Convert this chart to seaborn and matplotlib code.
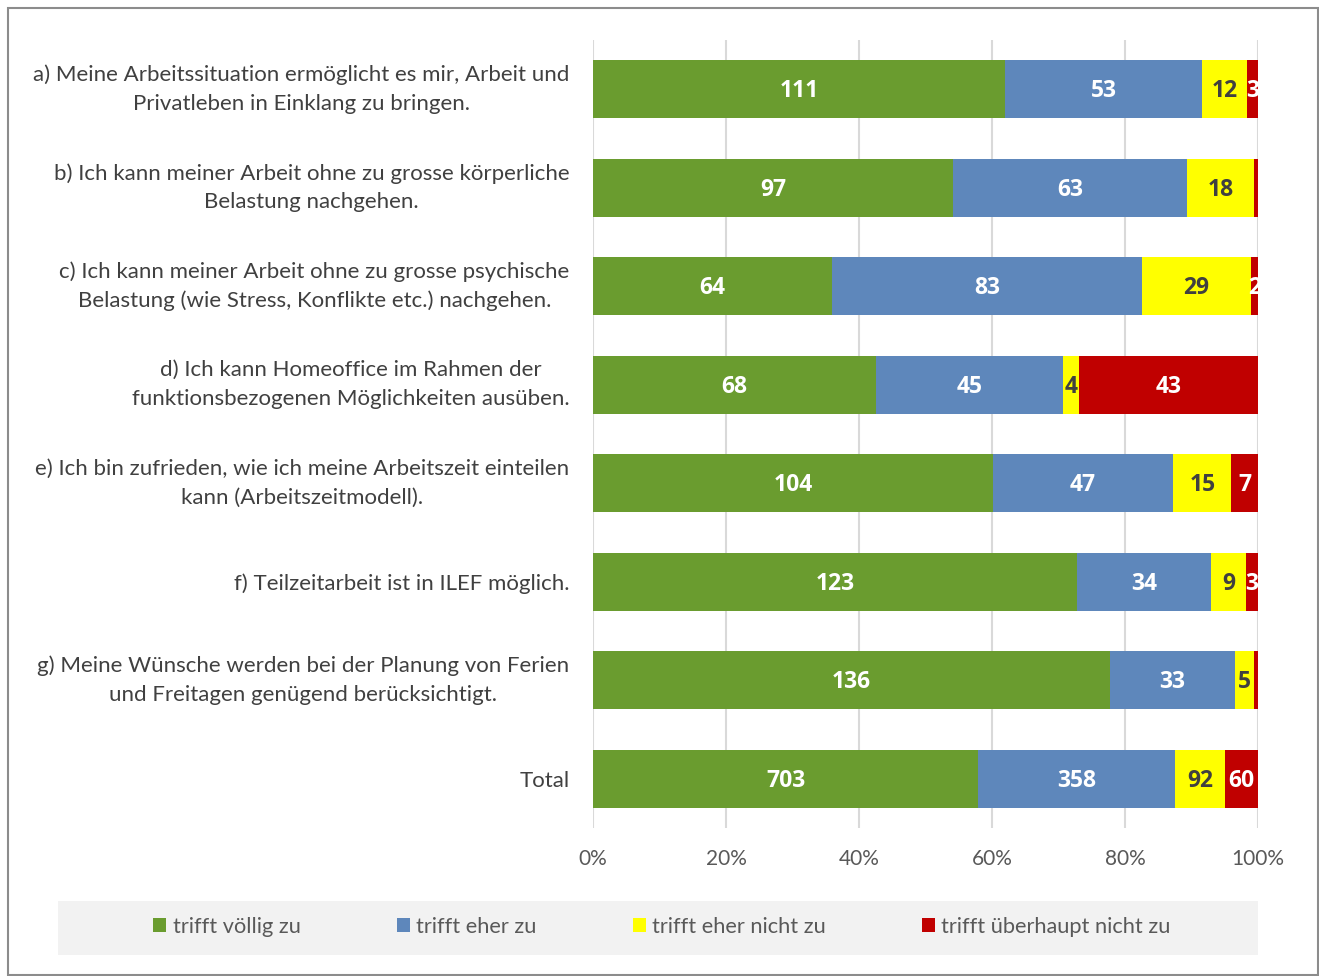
import numpy as np
import pandas as pd
import matplotlib
matplotlib.use("Agg")
import matplotlib.pyplot as plt
import seaborn as sns
from matplotlib.patches import Patch, Rectangle

# Data
questions = [
    "a) Meine Arbeitssituation ermöglicht es mir, Arbeit und\nPrivatleben in Einklang zu bringen.",
    "b) Ich kann meiner Arbeit ohne zu grosse körperliche\nBelastung nachgehen.",
    "c) Ich kann meiner Arbeit ohne zu grosse psychische\nBelastung (wie Stress, Konflikte etc.) nachgehen.",
    "d) Ich kann Homeoffice im Rahmen der\nfunktionsbezogenen Möglichkeiten ausüben.",
    "e) Ich bin zufrieden, wie ich meine Arbeitszeit einteilen\nkann (Arbeitszeitmodell).",
    "f) Teilzeitarbeit ist in ILEF möglich.",
    "g) Meine Wünsche werden bei der Planung von Ferien\nund Freitagen genügend berücksichtigt.",
    "Total",
]
categories = ["trifft völlig zu", "trifft eher zu", "trifft eher nicht zu", "trifft überhaupt nicht zu"]
voellig = [111, 97, 64, 68, 104, 123, 136, 703]
eher = [53, 63, 83, 45, 47, 34, 33, 358]
eher_nicht = [12, 18, 29, 4, 15, 9, 5, 92]
ueberhaupt_nicht = [3, 1, 2, 43, 7, 3, 1, 60]
xticks = [0, 0.2, 0.4, 0.6, 0.8, 1.0]

colors = ["#6A9C2F", "#5E87BB", "#FFFF00", "#C00000"]
text_colors = ["white", "white", "#404040", "white"]

counts = pd.DataFrame(
    {categories[0]: voellig, categories[1]: eher,
     categories[2]: eher_nicht, categories[3]: ueberhaupt_nicht},
    index=questions,
)
shares = counts.div(counts.sum(axis=1), axis=0)
cum = shares.cumsum(axis=1)

sns.set_theme(style="white")
plt.rcParams["font.family"] = ["Lato", "DejaVu Sans"]

fig = plt.figure(figsize=(13.19, 9.76), dpi=100)
ax = fig.add_axes([593 / 1319, 1 - 828 / 976, 665 / 1319, 788 / 976])

# stacked bars drawn back-to-front as cumulative shares
for cat, col in reversed(list(zip(categories, colors))):
    d = pd.DataFrame({"question": questions, "value": cum[cat].values})
    sns.barplot(data=d, x="value", y="question", orient="h", color=col,
                saturation=1, width=0.59, errorbar=None, linewidth=0, ax=ax, zorder=3)

# value labels
for i, q in enumerate(questions):
    left = 0
    for cat, tc in zip(categories, text_colors):
        w = shares.loc[q, cat]
        n = counts.loc[q, cat]
        if n > 1:
            ax.text(left + w / 2, i + 0.02, str(n), ha="center", va="center",
                    color=tc, fontsize=16.5, fontweight="bold", family="Open Sans",
                    zorder=5, clip_on=True)
        left += w

ax.set_xlim(0, 1)
ax.set_ylim(7.5, -0.5)
ax.set_xticks(xticks)
ax.set_xticklabels([f"{int(t * 100)}%" for t in xticks], color="#595959", fontsize=15)
ax.tick_params(axis="x", length=0, pad=15)
ax.tick_params(axis="y", length=0, pad=17)
ax.set_xlabel("")
ax.set_ylabel("")
for lbl in ax.get_yticklabels():
    lbl.set_multialignment("center")
    lbl.set_linespacing(1.55)
    lbl.set_color("#404040")
    lbl.set_fontsize(16)
    if "\n" in lbl.get_text():
        lbl.set_verticalalignment("center")
ax.grid(axis="x", color="#d9d9d9", linewidth=1.5, zorder=0)
ax.grid(axis="y", visible=False)
ax.set_axisbelow(True)
sns.despine(ax=ax, left=True, bottom=True)

# legend background + legend
fig.patches.append(Rectangle((58 / 1319, 1 - 955 / 976), 1200 / 1319, 54 / 976,
                             transform=fig.transFigure, facecolor="#f2f2f2",
                             edgecolor="none", zorder=0))
handles = [Patch(facecolor=c, edgecolor="none") for c in colors]
fig.legend(handles, categories, loc="center", bbox_to_anchor=(662 / 1319, 1 - 927 / 976),
           ncol=4, frameon=False, fontsize=15.7, handlelength=0.6, handleheight=0.6,
           handletextpad=0.3, columnspacing=4.4, labelcolor="#595959")

# outer frame
fig.patches.append(Rectangle((8 / 1319, 1 / 976), 1310 / 1319, 967 / 976,
                             transform=fig.transFigure, facecolor="none",
                             edgecolor="#8c8c8c", linewidth=1.5, zorder=10))

fig.savefig("out.png", dpi=100)
